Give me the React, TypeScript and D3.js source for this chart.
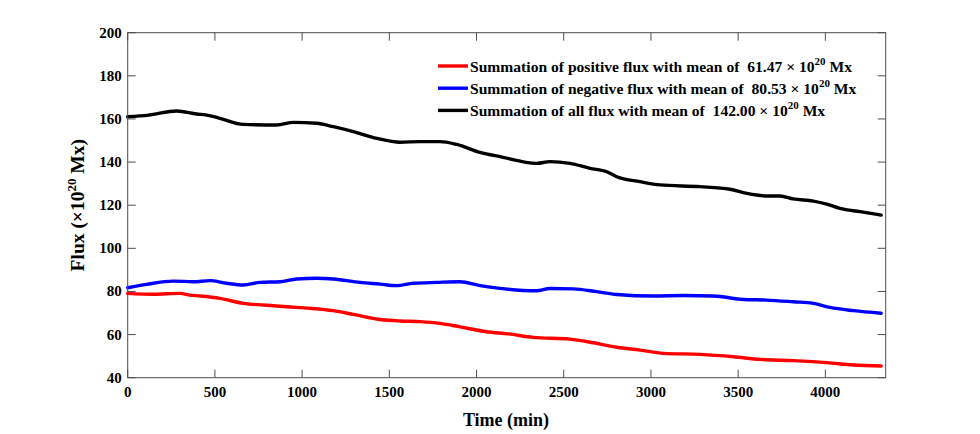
import React from "react";
import * as d3 from "d3";

const timeNeg = [0, 109, 262, 376, 472, 567, 663, 758, 873, 969, 1084, 1179, 1332, 1447, 1542, 1638, 1772, 1905, 2020, 2135, 2345, 2421, 2555, 2689, 2804, 3014, 3186, 3358, 3530, 3664, 3816, 3931, 4027, 4161, 4320];
const negFlux = [81.7, 83.3, 84.8, 84.5, 85.0, 83.8, 83.0, 84.2, 84.5, 85.8, 86.1, 85.8, 84.2, 83.4, 82.7, 83.8, 84.2, 84.5, 82.7, 81.4, 80.3, 81.4, 81.2, 79.9, 78.6, 77.9, 78.1, 77.9, 76.3, 76.0, 75.2, 74.5, 72.6, 71.1, 69.9];

const timePos = [0, 147, 300, 357, 415, 529, 663, 778, 912, 1045, 1179, 1294, 1447, 1561, 1676, 1791, 1905, 2058, 2182, 2326, 2536, 2670, 2804, 2937, 3071, 3282, 3473, 3626, 3816, 4008, 4161, 4320];
const posFlux = [79.1, 78.7, 79.1, 78.3, 77.9, 76.8, 74.5, 73.7, 72.9, 72.2, 71.1, 69.4, 67.0, 66.3, 66.0, 65.2, 63.6, 61.3, 60.3, 58.7, 57.9, 56.2, 54.1, 52.8, 51.3, 50.8, 49.7, 48.5, 47.9, 47.0, 45.9, 45.4];

const timeAll = [0, 120, 281, 395, 453, 529, 663, 854, 950, 1084, 1179, 1294, 1428, 1561, 1676, 1791, 1886, 2020, 2135, 2345, 2421, 2536, 2651, 2747, 2804, 2937, 3052, 3282, 3453, 3549, 3664, 3740, 3816, 3931, 4008, 4084, 4199, 4320];
const allFlux = [161.0, 161.8, 163.7, 162.3, 161.8, 160.3, 157.5, 157.2, 158.4, 158.0, 156.4, 154.1, 151.0, 149.2, 149.5, 149.5, 148.2, 144.5, 142.5, 139.4, 140.2, 139.4, 137.1, 135.5, 133.2, 130.9, 129.4, 128.6, 127.4, 125.5, 124.3, 124.3, 122.9, 121.9, 120.5, 118.5, 117.0, 115.4];

const xTicks = [0, 500, 1000, 1500, 2000, 2500, 3000, 3500, 4000];
const yTicks = [40, 60, 80, 100, 120, 140, 160, 180, 200];

const legendLabels = [
  { pre: "Summation of positive flux with mean of  61.47 × 10", color: "#ff0000" },
  { pre: "Summation of negative flux with mean of  80.53 × 10", color: "#0000ff" },
  { pre: "Summation of all flux with mean of  142.00 × 10", color: "#000000" },
];

const W = 980;
const H = 434;
const left = 127.7;
const right = 885.7;
const top = 32.7;
const bottom = 377.7;
const font = "'Liberation Serif', 'Times New Roman', serif";

export default function App() {
  const x = d3.scaleLinear().domain([0, 4346]).range([left, right]);
  const y = d3.scaleLinear().domain([40, 200]).range([bottom, top]);
  const line = d3
    .line<[number, number]>()
    .x((d) => x(d[0]))
    .y((d) => y(d[1]))
    .curve(d3.curveMonotoneX);

  const series = [
    { t: timePos, v: posFlux, color: "#ff0000" },
    { t: timeNeg, v: negFlux, color: "#0000ff" },
    { t: timeAll, v: allFlux, color: "#000000" },
  ];
  const axisColor = "#4d4d4d";
  const tickLen = 8;

  return (
    <svg
      width={W}
      height={H}
      style={{ position: "fixed", left: 0, top: 0, background: "#fff" }}
      fontFamily={font}
    >
      <rect x={0} y={0} width={W} height={H} fill="#fff" />
      {series.map((s, i) => (
        <path
          key={i}
          d={line(s.t.map((t, j) => [t, s.v[j]] as [number, number])) || ""}
          fill="none"
          stroke={s.color}
          strokeWidth={3.4}
          strokeLinejoin="round"
          strokeLinecap="round"
        />
      ))}
      <rect x={left} y={top} width={right - left} height={bottom - top} fill="none" stroke={axisColor} strokeWidth={1} />
      {xTicks.map((t) => (
        <g key={"x" + t}>
          <line x1={x(t)} x2={x(t)} y1={bottom} y2={bottom - tickLen} stroke={axisColor} />
          <line x1={x(t)} x2={x(t)} y1={top} y2={top + tickLen} stroke={axisColor} />
          <text x={x(t)} y={bottom + 19} textAnchor="middle" fontSize={15} fontWeight="bold" fill="#000">
            {t}
          </text>
        </g>
      ))}
      {yTicks.map((v) => (
        <g key={"y" + v}>
          <line x1={left} x2={left + tickLen} y1={y(v)} y2={y(v)} stroke={axisColor} />
          <line x1={right} x2={right - tickLen} y1={y(v)} y2={y(v)} stroke={axisColor} />
          <text x={left - 6} y={y(v) + 5} textAnchor="end" fontSize={15} fontWeight="bold" fill="#000">
            {v}
          </text>
        </g>
      ))}
      <text x={506} y={426} textAnchor="middle" fontSize={18} fontWeight="bold" fill="#000">
        Time (min)
      </text>
      <text
        transform={`translate(84, ${(top + bottom) / 2}) rotate(-90)`}
        textAnchor="middle"
        fontSize={19.5}
        fontWeight="bold"
        fill="#000"
      >
        Flux (×10<tspan fontSize={13} dy={-8}>20</tspan>
        <tspan dy={8}> Mx)</tspan>
      </text>
      {legendLabels.map((l, i) => {
        const ly = 66 + i * 22.2;
        return (
          <g key={"l" + i}>
            <line x1={438} x2={468} y1={ly} y2={ly} stroke={l.color} strokeWidth={3.4} />
            <text x={470} y={ly + 5.5} fontSize={15.6} fontWeight="bold" fill="#000" style={{ whiteSpace: "pre" }}>
              {l.pre}
              <tspan fontSize={11} dy={-7}>20</tspan>
              <tspan dy={7}> Mx</tspan>
            </text>
          </g>
        );
      })}
    </svg>
  );
}
